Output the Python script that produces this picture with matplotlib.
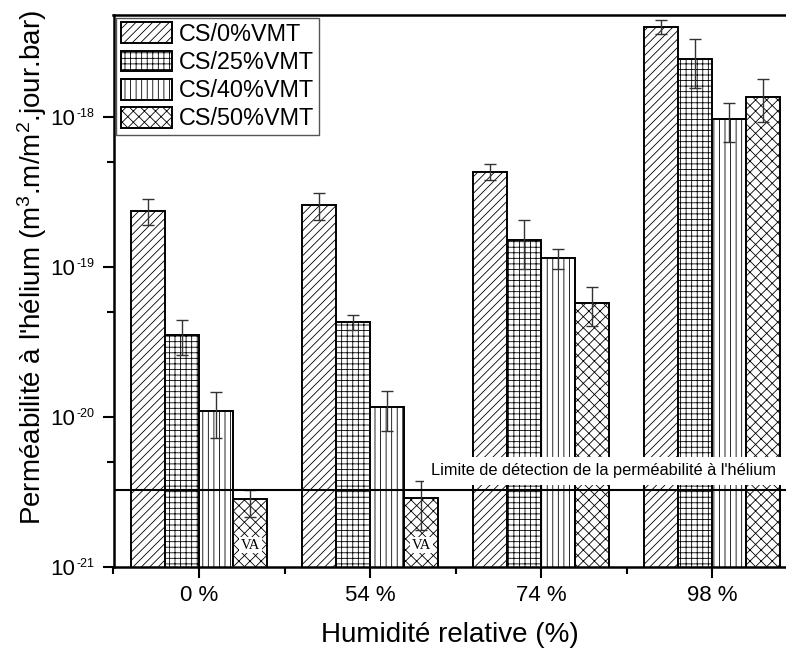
import matplotlib
matplotlib.use("Agg")
import matplotlib.pyplot as plt
import numpy as np
from matplotlib.ticker import FixedLocator, NullFormatter

plt.rcParams['font.family'] = ['Liberation Sans', 'DejaVu Sans']
plt.rcParams['mathtext.fontset'] = 'custom'
plt.rcParams['mathtext.rm'] = 'Liberation Sans'
plt.rcParams['mathtext.it'] = 'Liberation Sans:italic'
plt.rcParams['mathtext.bf'] = 'Liberation Sans:bold'
plt.rcParams['hatch.linewidth'] = 0.6

categories = ["0 %", "54 %", "74 %", "98 %"]
series = ["CS/0%VMT", "CS/25%VMT", "CS/40%VMT", "CS/50%VMT"]
cs0 = [2.37e-19, 2.59e-19, 4.32e-19, 4.0e-18]
cs25 = [3.52e-20, 4.28e-20, 1.51e-19, 2.43e-18]
cs40 = [1.09e-20, 1.15e-20, 1.14e-19, 9.66e-19]
cs50 = [2.72e-21, 2.77e-21, 5.73e-20, 1.35e-18]
err0 = [0.47e-19, 0.52e-19, 0.52e-19, 0.45e-18]
err25 = [0.92e-20, 0.47e-20, 0.54e-19, 0.88e-18]
err40 = [0.37e-20, 0.34e-20, 0.17e-19, 0.28e-18]
err50 = [0.55e-21, 1.0e-21, 1.66e-20, 0.43e-18]
detection_limit = 3.26e-21
detection_text = "Limite de détection de la perméabilité à l'hélium"
va_label = "VA"
y_decades = [1e-21, 1e-20, 1e-19, 1e-18]
y_exponents = ["-21", "-20", "-19", "-18"]

values = [cs0, cs25, cs40, cs50]
errors = [err0, err25, err40, err50]
hatches = ['////', '+++', '|||', 'xxx']

fig = plt.figure(figsize=(7.86, 6.5), dpi=100)
ax = fig.add_axes([113.5/786, (650-567)/650, (786-113.5)/786, (567-15)/650])

x = np.arange(len(categories))
w = 0.2
for i, (vals, errs, h, name) in enumerate(zip(values, errors, hatches, series)):
    xpos = x + (i - 1.5) * w
    ax.bar(xpos, vals, width=w, bottom=1e-22, color='white', edgecolor='black',
           linewidth=1.4, hatch=h, label=name, zorder=2)
    ax.errorbar(xpos, vals, yerr=errs, fmt='none', ecolor='#333333',
                elinewidth=1.0, capsize=4, capthick=1.0, zorder=3)

# VA labels on the undetectable bars
for j in [0, 1]:
    ax.text(x[j] + 1.5 * w, 1.40e-21, va_label, family=['Liberation Serif', 'DejaVu Serif'],
            fontsize=10.5, ha='center', va='center', zorder=4,
            bbox=dict(boxstyle='square,pad=0.12', facecolor='white', edgecolor='none'))

ax.axhline(detection_limit, color='black', linewidth=1.5, zorder=5)
ax.text(1.355, 4.37e-21, detection_text, fontsize=11.8, ha='left', va='center', zorder=4,
        bbox=dict(boxstyle='square,pad=0.42', facecolor='white', edgecolor='none'))

ax.set_yscale('log')
ax.set_ylim(1e-21, 10 ** (-21 + 552 / 150))
ax.set_xlim(-0.5, (786 - 199) / 171)

ax.yaxis.set_major_locator(FixedLocator(y_decades))
ax.yaxis.set_major_formatter(NullFormatter())
ax.yaxis.set_minor_locator(FixedLocator([5e-21, 5e-20, 5e-19]))
ax.yaxis.set_minor_formatter(NullFormatter())

# y tick labels: "10" with small superscript exponent
ytr = ax.get_yaxis_transform()
for v, e in zip(y_decades, y_exponents):
    ax.annotate("10", xy=((75 - 113.5) / 672.5, v), xycoords=ytr, fontsize=16,
                ha='right', va='center_baseline', annotation_clip=False)
    ax.annotate(e, xy=((76.5 - 113.5) / 672.5, v), xycoords=ytr, fontsize=9,
                xytext=(0, 6.2), textcoords='offset points',
                ha='left', va='top', annotation_clip=False)

ax.set_xticks(x)
ax.set_xticklabels(categories)
ax.xaxis.set_minor_locator(FixedLocator([-0.5, 0.5, 1.5, 2.5]))

ax.tick_params(axis='both', which='major', direction='out', length=8, width=1.5,
               labelsize=16)
ax.tick_params(axis='both', which='minor', direction='out', length=5, width=1.5)
ax.tick_params(axis='x', which='major', pad=5)

for s in ['left', 'bottom', 'top']:
    ax.spines[s].set_linewidth(1.8)
ax.spines['right'].set_visible(False)

ax.set_xlabel("Humidité relative (%)", fontsize=20)
ax.xaxis.label.set_va('center')
ax.xaxis.set_label_coords(0.5, -(635 - 567) / 552)
ax.set_ylabel("Perméabilité à l'hélium (m$^3$.m/m$^2$.jour.bar)", fontsize=20)
ax.yaxis.label.set_va('center')
ax.yaxis.set_label_coords((32 - 113.5) / 672.5, (567 - 267) / 552)

leg = ax.legend(loc='upper left', fontsize=16.8, handlelength=2.2, handleheight=1.0,
                labelspacing=0.2, borderpad=0.2, borderaxespad=0.12, handletextpad=0.3,
                fancybox=False, edgecolor='#555555', framealpha=1)
leg.get_frame().set_linewidth(1.0)

fig.savefig("out.png", dpi=100)
